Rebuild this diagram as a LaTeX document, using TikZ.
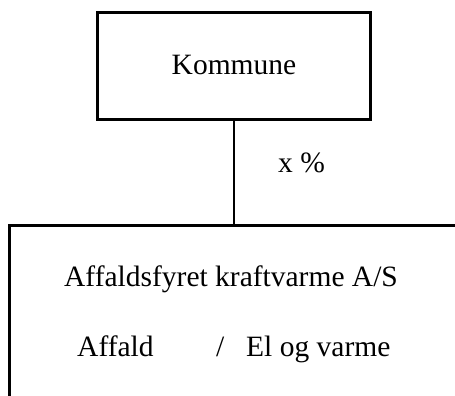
\documentclass[tikz,border=0pt]{standalone}
\usepackage{fontspec}
\setmainfont{Liberation Serif}
\tikzset{
  frame/.style={draw=black, line width=2.7pt},
  boxnode/.style={frame, minimum width=273.2pt, minimum height=106.5pt, inner sep=0pt},
  txt/.style={inner sep=0pt, anchor=base west, font=\fontsize{29.5}{34}\selectfont}
}
\begin{document}
\begin{tikzpicture}[x=1pt,y=1pt]
\useasboundingbox (0,0) rectangle (455,396);
\node[boxnode] (kommune) at (234.1,330) {};
\node[txt] (kommunetxt) at (171.5,321) {Kommune};
\coordinate (join) at (234.1,170.7);
\coordinate (topright) at (457,170.7);
\coordinate (topleft) at (9.2,170.7);
\coordinate (bottomleft) at (9.2,-2);
\draw[frame] (kommune.south) -- (join);
\draw[frame] (topright) -- (topleft) -- (bottomleft);
\node[txt] (pct) at (278,223) {x \%};
\node[txt] (firm) at (64,109) {Affaldsfyret kraftvarme A/S};
\node[txt] (affald) at (77,39) {Affald};
\node[txt] (slash) at (216,39) {/};
\node[txt] (elvarme) at (246,39) {El og varme};
\end{tikzpicture}
\end{document}
